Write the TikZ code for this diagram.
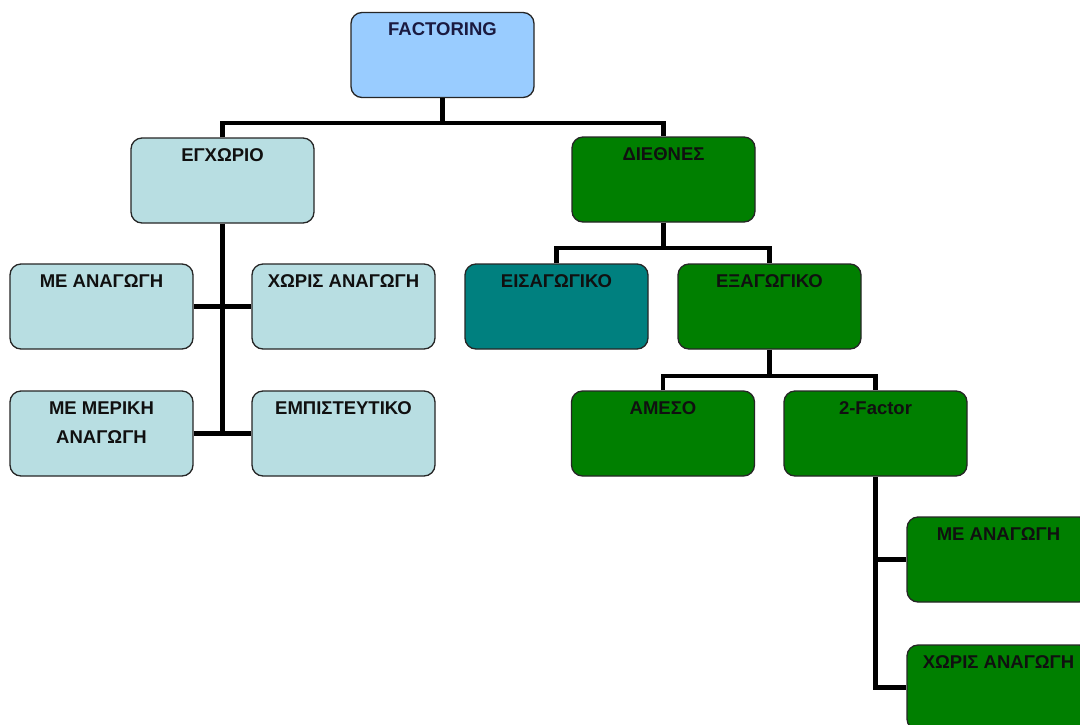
\documentclass[tikz,border=0pt]{standalone}
\usepackage{fontspec}
\setmainfont{Liberation Sans}
\definecolor{topblue}{HTML}{99CCFF}
\definecolor{pale}{HTML}{B8DEE2}
\definecolor{grn}{HTML}{007F00}
\definecolor{tealc}{HTML}{00807F}
\definecolor{txt}{HTML}{101010}
\definecolor{navy}{HTML}{1A1A40}
\begin{document}
\begin{tikzpicture}[x=1pt,y=-1pt,
  box/.style={draw=black!85, line width=1.3pt, rounded corners=11pt, minimum width=183pt, minimum height=85pt, inner sep=0pt},
  lab/.style={anchor=north, yshift=-9pt, inner sep=2pt, align=center, text=txt, font=\fontsize{18.5}{29}\selectfont\bfseries},
  conn/.style={draw=black, line width=4.2pt}]
\useasboundingbox (0,0) rectangle (1080,724);
\clip (0,0) rectangle (1080,724);
\fill[white] (0,0) rectangle (1080,724);
% boxes
\node[box, fill=topblue, label={[lab, text=navy]north:FACTORING}] (f) at (442.5,55) {};
\node[box, fill=pale, label={[lab]north:ΕΓΧΩΡΙΟ}] (eg) at (222.5,180.5) {};
\node[box, fill=grn, label={[lab]north:ΔΙΕΘΝΕΣ}] (di) at (663.5,179.5) {};
\node[box, fill=pale, label={[lab]north:ΜΕ ΑΝΑΓΩΓΗ}] (mea) at (101.5,306.5) {};
\node[box, fill=pale, label={[lab]north:ΧΩΡΙΣ ΑΝΑΓΩΓΗ}] (xa) at (343.5,306.5) {};
\node[box, fill=pale, label={[lab]north:ΜΕ ΜΕΡΙΚΗ\\ΑΝΑΓΩΓΗ}] (mm) at (101.5,433.5) {};
\node[box, fill=pale, label={[lab]north:ΕΜΠΙΣΤΕΥΤΙΚΟ}] (emp) at (343.5,433.5) {};
\node[box, fill=tealc, label={[lab]north:ΕΙΣΑΓΩΓΙΚΟ}] (eis) at (556.5,306.5) {};
\node[box, fill=grn, label={[lab]north:ΕΞΑΓΩΓΙΚΟ}] (exa) at (769.5,306.5) {};
\node[box, fill=grn, label={[lab]north:ΑΜΕΣΟ}] (am) at (663,433.5) {};
\node[box, fill=grn, label={[lab]north:2-Factor}] (tf) at (875.5,433.5) {};
\node[box, fill=grn, label={[lab]north:ΜΕ ΑΝΑΓΩΓΗ}] (r1) at (998.5,559.5) {};
\node[box, fill=grn, label={[lab]north:ΧΩΡΙΣ ΑΝΑΓΩΓΗ}] (r2) at (998.5,687.5) {};
% junctions
\coordinate (j1) at (442.5,123);
\coordinate (j2) at (663.5,248);
\coordinate (j3) at (769.5,376);
% connectors
\draw[conn] (f.south) -- (j1);
\draw[conn] (eg.north) |- (j1) -| (di.north);
\draw[conn] (eg.south) -- (eg.south |- mm.east);
\draw[conn] (mea.east) -- (xa.west);
\draw[conn] (mm.east) -- (emp.west);
\draw[conn] (di.south) -- (j2);
\draw[conn] (eis.north) |- (j2) -| (exa.north);
\draw[conn] (exa.south) -- (j3);
\draw[conn] (am.north) |- (j3) -| (tf.north);
\draw[conn] (tf.south) |- (r2.west);
\draw[conn] (tf.south |- r1.west) -- (r1.west);
\end{tikzpicture}
\end{document}
